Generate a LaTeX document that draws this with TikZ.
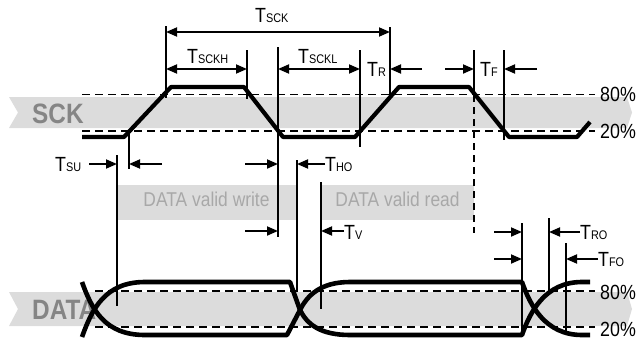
\documentclass[tikz,border=0pt]{standalone}
\usepackage{fontspec}
\setmainfont{Liberation Sans}[FakeStretch=0.87]
\usetikzlibrary{arrows.meta}
\definecolor{bandgray}{HTML}{DCDCDC}
\definecolor{lblgray}{HTML}{858585}
\definecolor{txtgray}{HTML}{A8A8A8}
\newcommand\tsub[1]{T{\fontsize{12.5}{14}\selectfont #1}}
\begin{document}
\begin{tikzpicture}[x=1pt,y=-1pt,
  wave/.style={line width=4.2pt,line join=round},
  dwave/.style={line width=4.6pt,line join=round},
  thresh/.style={line width=1.8pt,dash pattern=on 8pt off 5pt},
  vline/.style={line width=1.7pt},
  dim/.style={line width=1.8pt,-{Triangle[length=11pt,width=9pt]}},
  dimboth/.style={line width=1.8pt,{Triangle[length=11pt,width=9pt]}-{Triangle[length=11pt,width=9pt]}},
  tlab/.style={anchor=base west,inner sep=0pt,font=\fontsize{20.5}{24}\selectfont},
  siglab/.style={anchor=base west,inner sep=0pt,text=lblgray,font=\fontsize{28}{32}\selectfont\bfseries},
  validbox/.style={fill=bandgray,draw=none},
  validtxt/.style={anchor=base,inner sep=0pt,text=txtgray,font=\fontsize{20}{24}\selectfont}]
\useasboundingbox (0,0) rectangle (637,340);
% bands
\fill[bandgray] (9,97) -- (627,97) -- (632,112.5) -- (627,128) -- (9,128) -- (18,112.5) -- cycle;
\fill[bandgray] (9,292) -- (627,292) -- (632,309) -- (627,326) -- (9,326) -- (18,309) -- cycle;
\node[siglab] (sck) at (32,123) {SCK};
\node[siglab] (data) at (32,319) {DATA};
% threshold lines
\draw[thresh] (82,94.5) -- (595,94.5);
\draw[thresh] (82,131) -- (595,131);
\draw[thresh] (95,291) -- (595,291);
\draw[thresh] (95,327) -- (595,327);
\node[tlab] (p80a) at (600,101) {80\%};
\node[tlab] (p20a) at (600,138) {20\%};
\node[tlab] (p80b) at (600,299) {80\%};
\node[tlab] (p20b) at (600,336) {20\%};
% valid windows
\fill[validbox] (117,185) rectangle (297,220);
\fill[validbox] (321,185) rectangle (474,220);
\node[validtxt] (vw) at (206.5,206) {DATA valid write};
\node[validtxt] (vr) at (397.5,206) {DATA valid read};
% vertical reference lines
\draw[vline] (166,26) -- (166,98);
\draw[vline] (247,50) -- (247,99);
\draw[vline] (278,47) -- (278,237);
\draw[vline] (360,50) -- (360,147);
\draw[vline] (390,27) -- (390,97);
\draw[vline] (474,50) -- (474,95);
\draw[vline,dash pattern=on 7pt off 5pt] (474,95) -- (474,233);
\draw[vline] (504,50) -- (504,140);
\draw[vline] (129,131) -- (129,169);
\draw[vline] (117,155) -- (117,306);
\draw[vline] (297,160) -- (297,292);
\draw[vline] (321,182) -- (321,309);
\draw[vline] (522,223) -- (522,335);
\draw[vline] (549,218) -- (549,295);
\draw[vline] (566,243) -- (566,333);
% SCK waveform
\draw[wave] (82,137) -- (124,137) -- (171,87) -- (244,87) -- (283,137) -- (355,137)
  -- (399,87) -- (469,87) -- (509,137) -- (577,137) -- (590,122);
% DATA waveform
\draw[dwave] (82,282) .. controls (92,310) and (105,335) .. (145,335) -- (287,335) -- (300,310)
  .. controls (307,296) and (320,282) .. (350,282) -- (522,282)
  .. controls (530,305) and (545,335) .. (582,335) -- (590,335);
\draw[dwave] (82,337) .. controls (92,309) and (105,282) .. (145,282) -- (290,282) -- (300,310)
  .. controls (307,324) and (320,335) .. (350,335) -- (522,335)
  .. controls (530,312) and (545,282) .. (582,282) -- (590,282);
% dimension arrows
\draw[dimboth] (166,32) -- (390,32);
\node[tlab] (tsck) at (255,23) {\tsub{SCK}};
\draw[dimboth] (166,69) -- (247,69);
\node[tlab] (tsckh) at (187,63) {\tsub{SCKH}};
\draw[dimboth] (278,69) -- (360,69);
\node[tlab] (tsckl) at (298,63) {\tsub{SCKL}};
\node[tlab] (tr) at (367,76) {\tsub{R}};
\draw[dim] (422,69) -- (390,69);
\draw[dim] (445,69) -- (474,69);
\node[tlab] (tf) at (480,76) {\tsub{F}};
\draw[dim] (537,69) -- (504,69);
\node[tlab] (tsu) at (55,171) {\tsub{SU}};
\draw[dim] (89,164) -- (117,164);
\draw[dim] (162,164) -- (129,164);
\draw[dim] (245,164) -- (278,164);
\draw[dim] (325,164) -- (297,164);
\node[tlab] (tho) at (325,171) {\tsub{HO}};
\draw[dim] (245,231) -- (278,231);
\draw[dim] (344,231) -- (321,231);
\node[tlab] (tv) at (344,239) {\tsub{V}};
\draw[dim] (494,232) -- (522,232);
\draw[dim] (494,259) -- (522,259);
\draw[dim] (580,232) -- (549,232);
\node[tlab] (tro) at (580,239) {\tsub{RO}};
\draw[dim] (598,259) -- (566,259);
\node[tlab] (tfo) at (598,266) {\tsub{FO}};
\end{tikzpicture}
\end{document}
